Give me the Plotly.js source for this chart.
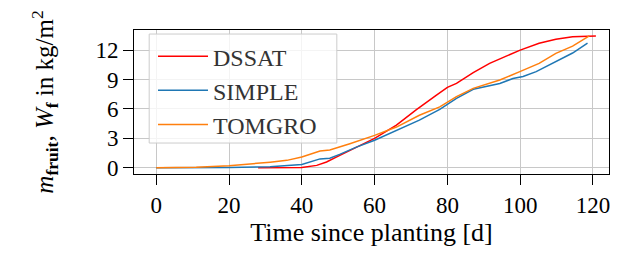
<!DOCTYPE html>
<html><head><meta charset="utf-8">
<script src="https://cdn.plot.ly/plotly-3.0.1.min.js"></script>
<style>html,body{margin:0;padding:0;background:#fff}#c{width:632px;height:256px}</style>
</head><body><div id="c"></div>
<script>
const dssatDay = [28, 34, 40, 44.1, 46.8, 49.6, 54.1, 60, 66, 71.4, 77, 80, 82.5, 87.1, 91.6, 96.2, 100, 105.2, 109.8, 114.4, 117, 120.8];
const dssatVal = [0, 0, 0.02, 0.24, 0.58, 1.1, 1.95, 3.0, 4.35, 5.9, 7.4, 8.2, 8.6, 9.7, 10.65, 11.4, 12.0, 12.7, 13.1, 13.37, 13.42, 13.43];
const simpleDay = [0, 10, 20, 31.3, 40, 45, 47.7, 50.4, 55, 60, 66, 72.3, 77.9, 82.5, 87.1, 94.4, 98, 100.8, 104.4, 109, 114.4, 118.5];
const simpleVal = [0, 0, 0.02, 0.1, 0.33, 0.9, 0.97, 1.36, 2.1, 2.8, 3.8, 4.85, 5.95, 7.08, 8.0, 8.6, 9.1, 9.3, 9.8, 10.65, 11.7, 12.7];
const tomgroDay = [0, 11, 20, 29, 31.3, 35.9, 40, 45, 47.7, 53.2, 60, 66, 72.3, 77.9, 82.5, 87.1, 94.4, 99.9, 105.2, 109.8, 114.4, 119];
const tomgroVal = [0, 0.05, 0.2, 0.44, 0.57, 0.75, 1.1, 1.7, 1.8, 2.45, 3.3, 4.15, 5.35, 6.2, 7.25, 8.1, 8.95, 9.8, 10.65, 11.67, 12.4, 13.44];
const xTicks = [0, 20, 40, 60, 80, 100, 120];
const yTicks = [0, 3, 6, 9, 12];

const fam = 'Liberation Serif, Times New Roman, serif';
const tickFont = {family: fam, size: 23, color: '#000'};
const traces = [
  {x: dssatDay, y: dssatVal, name: 'DSSAT', mode: 'lines', line: {color: '#ff0000', width: 1.5}},
  {x: simpleDay, y: simpleVal, name: 'SIMPLE', mode: 'lines', line: {color: '#1f77b4', width: 1.5}},
  {x: tomgroDay, y: tomgroVal, name: 'TOMGRO', mode: 'lines', line: {color: '#ff7f0e', width: 1.5}}
];
const layout = {
  width: 632, height: 256,
  margin: {l: 134, r: 23, t: 30, b: 82},
  paper_bgcolor: '#fff', plot_bgcolor: '#fff',
  font: {family: fam, size: 20, color: '#000'},
  showlegend: true,
  shapes: [{type: 'rect', xref: 'paper', yref: 'paper', x0: 0.032, x1: 0.427, y0: 0.215, y1: 0.972,
    layer: 'above', fillcolor: 'rgba(255,255,255,0.8)', line: {color: '#cccccc', width: 1}}],
  legend: {x: 0.04, y: 0.972, xanchor: 'left', yanchor: 'top',
    bgcolor: 'rgba(0,0,0,0)', borderwidth: 0, itemwidth: 50,
    font: {family: fam, size: 24, color: '#333'}, tracegroupgap: 0},
  xaxis: {range: [-6.1, 124.4], tickvals: xTicks, ticktext: xTicks.map(String),
    showgrid: true, gridcolor: '#c8c8c8', gridwidth: 1,
    showline: true, mirror: true, linecolor: '#000', linewidth: 1,
    ticks: 'outside', ticklen: 10, tickcolor: '#000', zeroline: false,
    tickfont: tickFont,
    title: {text: 'Time since planting [d]', font: {family: fam, size: 26, color: '#000'}, standoff: 2}},
  yaxis: {range: [-0.64, 14.05], tickvals: yTicks, ticktext: yTicks.map(String),
    showgrid: true, gridcolor: '#c8c8c8', gridwidth: 1,
    showline: true, mirror: true, linecolor: '#000', linewidth: 1,
    ticks: 'outside', ticklen: 10, tickcolor: '#000', zeroline: false,
    tickfont: tickFont,
    title: {text: '<i>m</i><sub><b>fruit</b></sub>, <i>W</i><sub><b>f</b></sub> in kg/m<sup>2</sup>', font: {family: fam, size: 25, color: '#000'}, standoff: 34}}
};
Plotly.newPlot('c', traces, layout, {displayModeBar: false, staticPlot: true});
</script></body></html>
